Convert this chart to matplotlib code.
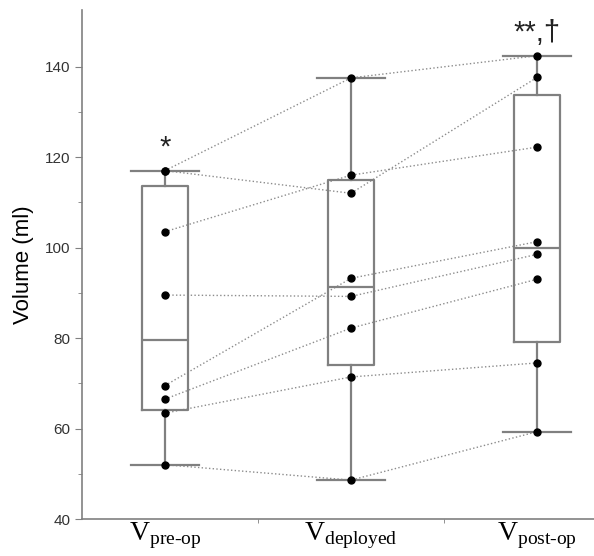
import numpy as np
import matplotlib.pyplot as plt

plt.rcParams['font.family'] = ['Liberation Sans', 'DejaVu Sans']
plt.rcParams['mathtext.fontset'] = 'custom'
plt.rcParams['mathtext.rm'] = 'Liberation Serif'

# volumes per patient (ml): pre-op, deployed, post-op
groups = [r'$\mathrm{V}_{\text{pre-op}}$', r'$\mathrm{V}_{\text{deployed}}$', r'$\mathrm{V}_{\text{post-op}}$']
v_pre = [117, 117, 103.5, 89.5, 69.5, 66.5, 63.4, 52.0]
v_dep = [137.5, 112.0, 116.0, 89.2, 93.2, 82.2, 71.4, 48.6]
v_post = [142.4, 137.6, 122.2, 98.5, 101.3, 93.0, 74.5, 59.3]
marks = ['*', '', '**,\u2020']

data = [v_pre, v_dep, v_post]
pos = [1, 2, 3]
gray = '#808080'

fig = plt.figure(figsize=(5.94, 5.56), dpi=100)
ax = fig.add_axes([0.138, 0.0665, 0.862, 0.9155])

# paired lines between stages
for i in range(len(v_pre)):
    ax.plot(pos, [v_pre[i], v_dep[i], v_post[i]], linestyle=':', color='#8c8c8c',
            linewidth=1.0, zorder=1)

# box stats: quartiles with (n+1)p rule, whiskers at min/max
stats = []
for d in data:
    q1, med, q3 = np.percentile(d, [25, 50, 75], method='weibull')
    stats.append(dict(med=med, q1=q1, q3=q3, whislo=min(d), whishi=max(d), fliers=[]))

ax.bxp(stats, positions=pos, widths=0.25, showfliers=False,
       boxprops=dict(color=gray, linewidth=1.6),
       whiskerprops=dict(color=gray, linewidth=1.6),
       capprops=dict(color=gray, linewidth=1.6),
       medianprops=dict(color=gray, linewidth=1.6), capwidths=0.37)

for p, d in zip(pos, data):
    ax.plot([p] * len(d), d, 'o', color='black', markersize=5, zorder=5)

for p, d, m in zip(pos, data, marks):
    if m:
        ax.text(p, max(d) + 2.0, m, ha='center', va='bottom', fontsize=21, color='#222222')

ax.set_xlim(0.554, 3.306)
ax.set_ylim(40, 152.5)
ax.set_yticks(range(40, 141, 20))
ax.set_yticks(range(50, 141, 20), minor=True)
ax.set_xticks(pos)
ax.set_xticklabels(groups, fontsize=20)
ax.set_xticks([1.5, 2.5], minor=True)
ax.tick_params(axis='x', which='major', length=0, pad=1, colors='black')
ax.tick_params(axis='x', which='minor', length=3, color=gray)
ax.tick_params(axis='y', which='major', length=5, color=gray, labelsize=11, labelcolor='#333333')
ax.tick_params(axis='y', which='minor', length=3, color=gray)
ax.set_ylabel('Volume (ml)', fontsize=16, labelpad=8)

for s in ['top', 'right']:
    ax.spines[s].set_visible(False)
for s in ['left', 'bottom']:
    ax.spines[s].set_color(gray)
    ax.spines[s].set_linewidth(1.2)

fig.savefig('out.png', dpi=100)
